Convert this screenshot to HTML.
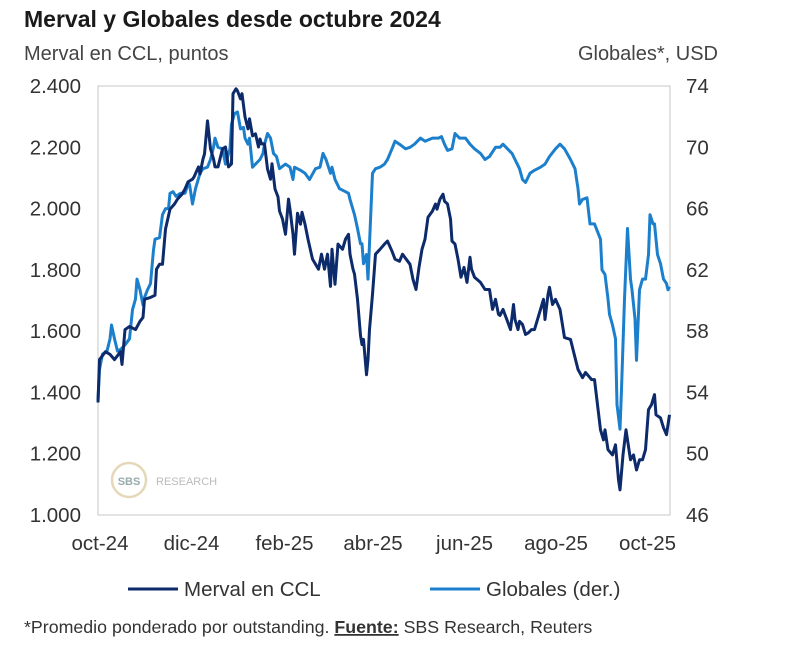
<!DOCTYPE html>
<html><head><meta charset="utf-8"><style>
body{margin:0;background:#fff;width:800px;height:652px;overflow:hidden;font-family:"Liberation Sans",sans-serif;}
svg text{font-family:"Liberation Sans",sans-serif;}
</style></head><body>
<svg id="chart" width="800" height="652" viewBox="0 0 800 652" xmlns="http://www.w3.org/2000/svg">
<text x="24" y="27" font-size="23" font-weight="bold" fill="#1a1a1a">Merval y Globales desde octubre 2024</text>
<text x="24" y="60" font-size="20" fill="#444">Merval en CCL, puntos</text>
<text x="718" y="60" font-size="20" fill="#444" text-anchor="end">Globales*, USD</text>
<rect x="98" y="86" width="572" height="429" fill="none" stroke="#d0d0d0" stroke-width="1.2"/>
<g id="watermark">
<circle cx="129" cy="480" r="17" fill="none" stroke="#e6d7b8" stroke-width="2.5"/>
<text x="129" y="485" font-size="11" font-weight="bold" fill="#9aa" text-anchor="middle">SBS</text>
<text x="156" y="485" font-size="11" fill="#bbb">RESEARCH</text>
</g>
<g id="axes"></g>
<g id="lines"></g>
<g>
<line x1="128" y1="589" x2="178" y2="589" stroke="#0d2a6b" stroke-width="3"/>
<text x="184" y="596" font-size="20.5" fill="#333">Merval en CCL</text>
<line x1="430" y1="589" x2="480" y2="589" stroke="#1c7fcc" stroke-width="3"/>
<text x="486" y="596" font-size="20.5" fill="#333">Globales (der.)</text>
</g>
<text x="24" y="633" font-size="17.8" fill="#333">*Promedio ponderado por outstanding. <tspan font-weight="bold" text-decoration="underline">Fuente:</tspan> SBS Research, Reuters</text>
</svg>
<script>
const leftTicks=[1000,1200,1400,1600,1800,2000,2200,2400];
const leftTickLabels=["1.000","1.200","1.400","1.600","1.800","2.000","2.200","2.400"];
const rightTicks=[46,50,54,58,62,66,70,74];
const xTickDays=[0,61,123,182,243,304,365];
const xTickLabels=["oct-24","dic-24","feb-25","abr-25","jun-25","ago-25","oct-25"];
const mervalDays=[0,1,5,8,11,15,16,18,21,25,28,30,31,35,38,39,41,43,45,48,51,53,56,58,60,63,64,67,68,70,71,73,75,77,78,80,83,85,87,89,90,92,93,95,96,98,100,101,103,105,107,108,109,111,113,115,116,118,120,121,123,125,127,128,130,131,133,135,136,138,140,143,147,149,151,153,155,156,158,160,163,165,167,168,170,171,173,175,176,177,179,180,181,183,185,188,191,193,196,198,201,203,208,210,212,214,216,218,220,223,225,226,228,230,231,233,235,236,238,240,242,244,246,248,249,251,255,258,261,263,265,267,268,270,273,275,277,278,280,281,283,285,287,289,291,295,297,298,300,301,303,305,308,311,315,318,320,323,325,328,329,331,335,337,338,340,343,345,347,348,350,352,355,357,359,361,363,365,367,369,371,372,375,377,379,381];
const mervalValues=[1367,1507,1533,1524,1507,1533,1491,1605,1615,1605,1632,1645,1704,1710,1717,1802,1818,1818,1933,1998,2015,2031,2047,2064,2087,2096,2103,2136,2113,2162,2178,2286,2195,2162,2136,2136,2195,2201,2136,2146,2375,2391,2384,2358,2375,2299,2260,2293,2237,2244,2201,2227,2211,2211,2129,2096,2146,2064,2038,1992,1966,1916,2031,1998,1916,1851,1985,1949,1988,1949,1900,1835,1802,1851,1802,1851,1746,1867,1753,1884,1867,1900,1916,1851,1802,1786,1704,1586,1556,1573,1458,1507,1605,1720,1851,1867,1884,1894,1861,1835,1828,1851,1818,1769,1736,1808,1867,1900,1972,1992,2015,1998,2031,2047,2024,2015,1966,1894,1884,1835,1776,1808,1759,1841,1802,1776,1759,1736,1736,1671,1704,1655,1651,1671,1632,1605,1687,1638,1605,1632,1622,1589,1595,1605,1605,1671,1704,1638,1720,1743,1687,1704,1671,1579,1573,1514,1475,1448,1465,1448,1442,1442,1278,1245,1278,1213,1196,1229,1115,1082,1196,1278,1180,1196,1147,1180,1180,1213,1344,1360,1393,1327,1317,1285,1262,1327];
const globalesDays=[0,1,3,6,8,9,11,13,15,18,21,23,25,26,28,30,31,33,35,37,38,41,43,45,47,48,50,52,55,58,60,61,63,65,68,70,73,75,77,78,80,83,85,88,89,91,93,95,97,98,100,101,103,105,108,110,111,113,115,117,119,121,125,128,130,131,135,138,141,145,148,150,152,155,156,158,161,165,167,168,171,173,175,176,177,179,180,181,183,185,188,191,193,196,198,201,205,208,211,215,218,223,227,229,231,233,236,238,241,245,248,251,255,258,261,265,268,270,273,276,278,281,283,285,288,291,295,298,301,305,308,311,315,318,320,321,323,326,328,331,335,336,338,340,341,343,345,346,348,349,351,353,355,356,358,359,361,363,365,367,368,370,371,373,375,377,379,380,381];
const globalesValues=[53.5,55.5,56.5,56.7,57.5,58.4,57.5,56.7,56.8,57.1,57.5,59.4,60.1,61.4,60.7,59.7,60.2,60.7,61.1,63.3,64.0,64.1,65.6,66.0,66.0,67.0,67.1,66.8,67.0,67.0,67.6,67.6,66.3,67.3,68.3,68.6,68.7,69.2,70.0,70.6,70.0,69.9,68.9,69.9,71.5,72.2,72.3,71.2,71.3,70.6,70.2,70.6,68.7,68.9,69.2,69.6,70.2,70.9,70.6,69.6,69.4,68.6,68.9,68.7,67.9,68.7,68.5,68.3,67.9,68.6,68.7,69.6,69.2,68.3,68.7,67.9,67.3,67.1,67.0,66.6,65.6,64.7,63.7,63.7,62.4,63.0,61.4,63.7,68.3,68.6,68.7,68.9,69.2,69.9,70.4,70.2,69.9,70.0,70.2,70.6,70.4,70.6,70.6,70.7,70.2,69.8,69.9,70.9,70.6,70.6,70.2,69.9,69.6,69.2,69.4,70.0,70.0,70.2,69.9,69.6,69.2,68.6,67.9,67.7,68.3,68.5,68.7,68.9,69.4,69.9,70.2,69.9,69.2,68.6,67.3,66.3,66.6,66.7,65.0,65.0,64.0,62.0,61.7,60.1,59.1,58.4,57.5,53.2,51.6,54.2,60.1,64.7,61.4,60.7,58.8,56.1,60.7,61.4,61.4,63.0,65.6,65.0,65.0,63.0,62.4,61.4,61.1,60.7,60.9];

const X0=98,X1=670,Y0=515,Y1=86,D0=0,D1=381.3;
function xScale(d){return X0+(d-D0)/(D1-D0)*(X1-X0);}
function yLeft(v){return Y0-(v-1000)/(2400-1000)*(Y0-Y1);}
function yRight(v){return Y0-(v-46)/(74-46)*(Y0-Y1);}
const NS="http://www.w3.org/2000/svg";
const axes=document.getElementById('axes'),lines=document.getElementById('lines');
function txt(parent,x,y,s,anchor){const t=document.createElementNS(NS,'text');t.setAttribute('x',x);t.setAttribute('y',y);t.setAttribute('font-size','20.5');t.setAttribute('fill','#333');t.setAttribute('text-anchor',anchor);t.textContent=s;parent.appendChild(t);return t;}
leftTicks.forEach((v,i)=>{const t=txt(axes,81,yLeft(v)+7,leftTickLabels[i],'end');

});
rightTicks.forEach(v=>{const t=txt(axes,686,yRight(v)+7,String(v),'start');

});
xTickDays.forEach((d,i)=>{const t=txt(axes,xScale(d)+2,550,xTickLabels[i],'middle');

});
function drawLine(days,vals,yf,color,name){const p=document.createElementNS(NS,'polyline');
p.setAttribute('points',days.map((d,i)=>xScale(d).toFixed(1)+','+yf(vals[i]).toFixed(1)).join(' '));
p.setAttribute('fill','none');p.setAttribute('stroke',color);p.setAttribute('stroke-width','3');p.setAttribute('stroke-linejoin','round');


lines.appendChild(p);}
drawLine(globalesDays,globalesValues,yRight,'#1c7fcc','globales-line');
drawLine(mervalDays,mervalValues,yLeft,'#0d2a6b','merval-line');
</script>
</body></html>
